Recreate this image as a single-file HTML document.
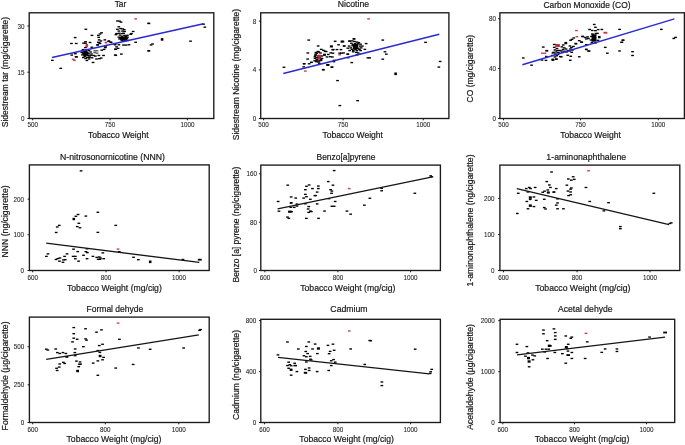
<!DOCTYPE html>
<html><head><meta charset="utf-8"><style>
html,body{margin:0;padding:0;background:#fff;overflow:hidden;}
svg{display:block;will-change:transform;}
text{font-family:"Liberation Sans", sans-serif;}
.lb{font-size:9.4px;fill:#161616;stroke:#161616;stroke-width:0.2px;}
.tk{font-size:7.2px;fill:#222;stroke:#222;stroke-width:0.08px;}
.fr{fill:none;stroke:#1a1a1a;stroke-width:1.35px;}
.tkl{stroke:#1a1a1a;stroke-width:1px;}
</style></head><body>
<svg width="685" height="445" viewBox="0 0 685 445">
<rect width="685" height="445" fill="#fff"/>
<g><rect x="29.2" y="12.8" width="184.60" height="105.70" class="fr"/><line x1="32.7" y1="118.5" x2="32.7" y2="120.3" class="tkl"/><text x="32.7" y="127.3" text-anchor="middle" class="tk" textLength="10.50" lengthAdjust="spacingAndGlyphs">500</text><line x1="110.1" y1="118.5" x2="110.1" y2="120.3" class="tkl"/><text x="110.1" y="127.3" text-anchor="middle" class="tk" textLength="10.50" lengthAdjust="spacingAndGlyphs">750</text><line x1="187.4" y1="118.5" x2="187.4" y2="120.3" class="tkl"/><text x="187.4" y="127.3" text-anchor="middle" class="tk" textLength="14.00" lengthAdjust="spacingAndGlyphs">1000</text><line x1="27.4" y1="118.5" x2="29.2" y2="118.5" class="tkl"/><text x="24.6" y="121.05" text-anchor="end" class="tk" textLength="3.50" lengthAdjust="spacingAndGlyphs">0</text><line x1="27.4" y1="72.2" x2="29.2" y2="72.2" class="tkl"/><text x="24.6" y="74.75" text-anchor="end" class="tk" textLength="7.00" lengthAdjust="spacingAndGlyphs">15</text><line x1="27.4" y1="26" x2="29.2" y2="26" class="tkl"/><text x="24.6" y="28.55" text-anchor="end" class="tk" textLength="7.00" lengthAdjust="spacingAndGlyphs">30</text><text x="120.5" y="7.4" text-anchor="middle" class="lb" textLength="11.6" lengthAdjust="spacingAndGlyphs">Tar</text><text x="118.3" y="137.8" text-anchor="middle" class="lb" textLength="60.6" lengthAdjust="spacingAndGlyphs">Tobacco Weight</text><text transform="translate(7.8 72.15) rotate(-90)" text-anchor="middle" class="lb" textLength="110.3" lengthAdjust="spacingAndGlyphs">Sidestream tar (mg/cigarette)</text><rect x="83.3" y="51.6" width="5" height="4" fill="#000"/><rect x="120.5" y="36.5" width="6" height="3.5" fill="#000"/><rect x="51.0" y="59.7" width="2.7" height="1.35" fill="#000"/><rect x="59.4" y="67.7" width="2.7" height="1.35" fill="#000"/><rect x="73.8" y="36.9" width="2.7" height="1.35" fill="#000"/><rect x="70.1" y="42.8" width="2.7" height="1.35" fill="#000"/><rect x="74.9" y="42.8" width="2.7" height="1.35" fill="#000"/><rect x="84.5" y="28.6" width="2.7" height="1.35" fill="#000"/><rect x="90.6" y="34.7" width="2.7" height="1.35" fill="#000"/><rect x="97.0" y="34.7" width="2.7" height="1.35" fill="#000"/><rect x="98.7" y="33.3" width="2.7" height="1.35" fill="#000"/><rect x="100.2" y="32.1" width="2.7" height="1.35" fill="#000"/><rect x="97.4" y="36.7" width="2.7" height="1.35" fill="#000"/><rect x="97.8" y="39.2" width="2.7" height="1.35" fill="#000"/><rect x="99.6" y="40.3" width="2.7" height="1.35" fill="#000"/><rect x="97.8" y="42.1" width="2.7" height="1.35" fill="#000"/><rect x="103.5" y="39.2" width="2.7" height="1.35" fill="#000"/><rect x="107.5" y="40.3" width="2.7" height="1.35" fill="#000"/><rect x="109.6" y="41.7" width="2.7" height="1.35" fill="#000"/><rect x="84.2" y="41.1" width="2.7" height="1.35" fill="#000"/><rect x="82.2" y="42.5" width="2.7" height="1.35" fill="#000"/><rect x="84.2" y="42.5" width="2.7" height="1.35" fill="#000"/><rect x="88.7" y="41.8" width="2.7" height="1.35" fill="#000"/><rect x="85.5" y="43.9" width="2.6" height="3.4" fill="#d03848"/><rect x="84.1" y="46.9" width="2.7" height="1.35" fill="#000"/><rect x="90.5" y="46.6" width="2.7" height="1.35" fill="#000"/><rect x="96.9" y="41.6" width="2.7" height="1.35" fill="#000"/><rect x="98.7" y="42.8" width="2.7" height="1.35" fill="#000"/><rect x="96.2" y="44.3" width="2.7" height="1.35" fill="#000"/><rect x="104.7" y="41.7" width="2.6" height="1.8" fill="#d03848"/><rect x="103.9" y="46.9" width="2.7" height="1.35" fill="#000"/><rect x="71.8" y="58.6" width="2.7" height="1.35" fill="#d03848"/><rect x="73.1" y="59.7" width="2.7" height="1.35" fill="#d03848"/><rect x="70.4" y="54.4" width="2.7" height="1.35" fill="#000"/><rect x="74.0" y="53.0" width="2.7" height="1.35" fill="#000"/><rect x="75.2" y="56.3" width="2.7" height="1.35" fill="#000"/><rect x="74.7" y="56.0" width="2.7" height="1.35" fill="#000"/><rect x="81.7" y="48.9" width="2.7" height="1.35" fill="#000"/><rect x="84.7" y="49.5" width="2.7" height="1.35" fill="#000"/><rect x="87.6" y="49.8" width="2.7" height="1.35" fill="#000"/><rect x="80.5" y="51.9" width="2.7" height="1.35" fill="#000"/><rect x="82.9" y="51.3" width="2.7" height="1.35" fill="#000"/><rect x="85.8" y="51.6" width="2.7" height="1.35" fill="#000"/><rect x="89.2" y="51.3" width="2.7" height="1.35" fill="#000"/><rect x="93.4" y="50.1" width="2.7" height="1.35" fill="#555"/><rect x="95.7" y="50.1" width="2.7" height="1.35" fill="#555"/><rect x="93.4" y="51.9" width="2.7" height="1.35" fill="#555"/><rect x="95.7" y="52.5" width="2.7" height="1.35" fill="#555"/><rect x="81.1" y="54.2" width="2.7" height="1.35" fill="#000"/><rect x="83.5" y="54.5" width="2.7" height="1.35" fill="#000"/><rect x="86.4" y="54.8" width="2.7" height="1.35" fill="#000"/><rect x="83.5" y="55.7" width="2.7" height="1.35" fill="#000"/><rect x="88.2" y="56.3" width="2.7" height="1.35" fill="#000"/><rect x="92.2" y="54.8" width="2.7" height="1.35" fill="#000"/><rect x="94.0" y="55.4" width="2.7" height="1.35" fill="#000"/><rect x="97.5" y="54.8" width="2.7" height="1.35" fill="#000"/><rect x="102.2" y="54.8" width="2.7" height="1.35" fill="#000"/><rect x="85.8" y="56.8" width="2.7" height="1.35" fill="#000"/><rect x="87.6" y="56.8" width="2.7" height="1.35" fill="#000"/><rect x="95.2" y="58.3" width="2.7" height="1.35" fill="#000"/><rect x="98.1" y="58.0" width="2.7" height="1.35" fill="#000"/><rect x="99.8" y="57.4" width="2.7" height="1.35" fill="#000"/><rect x="85.5" y="59.8" width="2.7" height="1.35" fill="#000"/><rect x="91.7" y="61.8" width="2.7" height="1.35" fill="#000"/><rect x="100.4" y="49.5" width="2.7" height="1.35" fill="#000"/><rect x="102.8" y="48.7" width="2.7" height="1.35" fill="#000"/><rect x="81.2" y="50.3" width="2.7" height="1.35" fill="#000"/><rect x="84.2" y="50.6" width="2.7" height="1.35" fill="#000"/><rect x="87.2" y="53.1" width="2.7" height="1.35" fill="#000"/><rect x="82.2" y="52.9" width="2.7" height="1.35" fill="#000"/><rect x="85.2" y="53.3" width="2.7" height="1.35" fill="#000"/><rect x="90.2" y="53.3" width="2.7" height="1.35" fill="#000"/><rect x="84.2" y="57.8" width="2.7" height="1.35" fill="#000"/><rect x="87.7" y="58.3" width="2.7" height="1.35" fill="#000"/><rect x="81.9" y="56.8" width="2.7" height="1.35" fill="#000"/><rect x="89.2" y="54.8" width="2.7" height="1.35" fill="#000"/><rect x="90.7" y="57.1" width="2.7" height="1.35" fill="#000"/><rect x="96.4" y="44.1" width="2.7" height="1.35" fill="#000"/><rect x="104.2" y="46.1" width="2.7" height="1.35" fill="#000"/><rect x="113.7" y="44.1" width="2.7" height="1.35" fill="#000"/><rect x="114.0" y="48.5" width="2.7" height="1.35" fill="#000"/><rect x="114.4" y="54.7" width="2.7" height="1.35" fill="#000"/><rect x="134.3" y="18.2" width="2.7" height="1.35" fill="#d03848"/><rect x="116.1" y="20.3" width="2.7" height="1.35" fill="#000"/><rect x="118.2" y="20.5" width="2.7" height="1.35" fill="#000"/><rect x="119.7" y="21.4" width="2.7" height="1.35" fill="#000"/><rect x="117.5" y="26.1" width="2.7" height="1.35" fill="#000"/><rect x="116.1" y="28.6" width="2.7" height="1.35" fill="#000"/><rect x="119.2" y="27.9" width="2.7" height="1.35" fill="#000"/><rect x="121.4" y="28.2" width="2.7" height="1.35" fill="#000"/><rect x="122.9" y="29.0" width="2.7" height="1.35" fill="#000"/><rect x="117.5" y="30.4" width="2.7" height="1.35" fill="#000"/><rect x="121.1" y="30.4" width="2.7" height="1.35" fill="#000"/><rect x="123.2" y="30.8" width="2.7" height="1.35" fill="#000"/><rect x="115.2" y="32.9" width="2.7" height="1.35" fill="#000"/><rect x="117.9" y="32.6" width="2.7" height="1.35" fill="#000"/><rect x="120.7" y="32.9" width="2.7" height="1.35" fill="#000"/><rect x="114.6" y="34.0" width="2.7" height="1.35" fill="#000"/><rect x="122.2" y="32.6" width="2.7" height="1.35" fill="#000"/><rect x="118.6" y="34.4" width="2.7" height="1.35" fill="#000"/><rect x="123.2" y="34.7" width="2.7" height="1.35" fill="#000"/><rect x="126.1" y="34.6" width="2.7" height="1.35" fill="#000"/><rect x="117.5" y="36.5" width="2.7" height="1.35" fill="#000"/><rect x="119.7" y="36.9" width="2.7" height="1.35" fill="#000"/><rect x="123.2" y="36.9" width="2.7" height="1.35" fill="#000"/><rect x="126.1" y="36.5" width="2.7" height="1.35" fill="#000"/><rect x="118.2" y="38.3" width="2.7" height="1.35" fill="#000"/><rect x="121.8" y="38.3" width="2.7" height="1.35" fill="#000"/><rect x="124.6" y="39.0" width="2.7" height="1.35" fill="#000"/><rect x="126.8" y="39.8" width="2.7" height="1.35" fill="#000"/><rect x="121.1" y="40.1" width="2.7" height="1.35" fill="#000"/><rect x="124.0" y="40.1" width="2.7" height="1.35" fill="#000"/><rect x="120.7" y="35.6" width="2.7" height="1.35" fill="#000"/><rect x="124.7" y="35.8" width="2.7" height="1.35" fill="#000"/><rect x="119.2" y="37.5" width="2.7" height="1.35" fill="#000"/><rect x="121.7" y="37.8" width="2.7" height="1.35" fill="#000"/><rect x="125.5" y="37.9" width="2.7" height="1.35" fill="#000"/><rect x="120.2" y="39.3" width="2.7" height="1.35" fill="#000"/><rect x="123.2" y="39.1" width="2.7" height="1.35" fill="#000"/><rect x="131.8" y="30.8" width="2.7" height="1.35" fill="#000"/><rect x="130.1" y="32.9" width="2.7" height="1.35" fill="#000"/><rect x="129.3" y="33.6" width="2.7" height="1.35" fill="#000"/><rect x="134.3" y="41.6" width="2.7" height="1.35" fill="#000"/><rect x="107.4" y="40.8" width="2.7" height="1.35" fill="#000"/><rect x="109.6" y="41.6" width="2.7" height="1.35" fill="#000"/><rect x="113.5" y="43.4" width="2.7" height="1.35" fill="#000"/><rect x="117.5" y="44.1" width="2.7" height="1.35" fill="#000"/><rect x="122.2" y="44.4" width="2.7" height="1.35" fill="#000"/><rect x="124.7" y="44.4" width="2.7" height="1.35" fill="#000"/><rect x="127.6" y="44.1" width="2.7" height="1.35" fill="#000"/><rect x="115.2" y="46.2" width="2.7" height="1.35" fill="#000"/><rect x="114.4" y="48.7" width="2.7" height="1.35" fill="#000"/><rect x="116.7" y="47.7" width="2.7" height="1.35" fill="#000"/><rect x="120.0" y="53.4" width="2.7" height="1.35" fill="#000"/><rect x="113.9" y="54.3" width="2.7" height="1.35" fill="#000"/><rect x="147.3" y="50.1" width="2.7" height="1.35" fill="#000"/><rect x="147.3" y="22.7" width="2.7" height="1.35" fill="#000"/><rect x="147.6" y="22.8" width="2.7" height="1.35" fill="#000"/><rect x="160.8" y="38.1" width="2.6" height="2.6" fill="#000"/><rect x="149.7" y="44.3" width="2.7" height="1.35" fill="#000"/><rect x="151.2" y="43.3" width="2.7" height="1.35" fill="#000"/><rect x="147.6" y="50.2" width="2.7" height="1.35" fill="#000"/><rect x="189.2" y="40.5" width="2.7" height="1.35" fill="#000"/><rect x="202.2" y="23.5" width="2.7" height="1.35" fill="#000"/><rect x="203.5" y="26.5" width="2.7" height="1.35" fill="#000"/><line x1="52" y1="57.6" x2="203.5" y2="23.8" stroke="#2a2ad2" stroke-width="1.5"/></g>
<g><rect x="260.7" y="12.8" width="188.20" height="105.70" class="fr"/><line x1="263.6" y1="118.5" x2="263.6" y2="120.3" class="tkl"/><text x="263.6" y="127.3" text-anchor="middle" class="tk" textLength="10.50" lengthAdjust="spacingAndGlyphs">500</text><line x1="343.1" y1="118.5" x2="343.1" y2="120.3" class="tkl"/><text x="343.1" y="127.3" text-anchor="middle" class="tk" textLength="10.50" lengthAdjust="spacingAndGlyphs">750</text><line x1="423.3" y1="118.5" x2="423.3" y2="120.3" class="tkl"/><text x="423.3" y="127.3" text-anchor="middle" class="tk" textLength="14.00" lengthAdjust="spacingAndGlyphs">1000</text><line x1="258.9" y1="118.5" x2="260.7" y2="118.5" class="tkl"/><text x="256.3" y="121.05" text-anchor="end" class="tk" textLength="3.50" lengthAdjust="spacingAndGlyphs">0</text><line x1="258.9" y1="69.9" x2="260.7" y2="69.9" class="tkl"/><text x="256.3" y="72.45" text-anchor="end" class="tk" textLength="3.50" lengthAdjust="spacingAndGlyphs">4</text><line x1="258.9" y1="21.1" x2="260.7" y2="21.1" class="tkl"/><text x="256.3" y="23.650000000000002" text-anchor="end" class="tk" textLength="3.50" lengthAdjust="spacingAndGlyphs">8</text><text x="353.4" y="7.4" text-anchor="middle" class="lb" textLength="31.4" lengthAdjust="spacingAndGlyphs">Nicotine</text><text x="352.7" y="137.8" text-anchor="middle" class="lb" textLength="60.6" lengthAdjust="spacingAndGlyphs">Tobacco Weight</text><text transform="translate(239.3 74.65) rotate(-90)" text-anchor="middle" class="lb" textLength="131.3" lengthAdjust="spacingAndGlyphs">Sidestream Nicotine (mg/cigarette)</text><rect x="353.0" y="43.9" width="5" height="5.5" fill="#000"/><rect x="314.6" y="51.8" width="2.7" height="1.35" fill="#000"/><rect x="316.6" y="50.8" width="2.7" height="1.35" fill="#000"/><rect x="319.1" y="52.3" width="2.7" height="1.35" fill="#000"/><rect x="314.1" y="54.8" width="2.7" height="1.35" fill="#000"/><rect x="320.6" y="55.3" width="2.7" height="1.35" fill="#000"/><rect x="315.6" y="59.1" width="2.7" height="1.35" fill="#000"/><rect x="319.6" y="59.1" width="2.7" height="1.35" fill="#000"/><rect x="317.6" y="60.3" width="2.7" height="1.35" fill="#000"/><rect x="282.6" y="66.6" width="2.7" height="1.35" fill="#000"/><rect x="307.4" y="39.4" width="2.7" height="1.35" fill="#000"/><rect x="316.8" y="45.3" width="2.7" height="1.35" fill="#000"/><rect x="306.5" y="52.3" width="2.7" height="1.35" fill="#000"/><rect x="306.3" y="58.4" width="2.7" height="1.35" fill="#000"/><rect x="302.8" y="63.1" width="2.7" height="1.35" fill="#000"/><rect x="307.8" y="63.1" width="2.7" height="1.35" fill="#000"/><rect x="310.1" y="61.7" width="2.7" height="1.35" fill="#000"/><rect x="304.0" y="70.4" width="2.7" height="1.35" fill="#d03848"/><rect x="302.4" y="66.2" width="2.7" height="1.35" fill="#000"/><rect x="321.8" y="68.9" width="2.7" height="1.35" fill="#000"/><rect x="326.3" y="64.4" width="2.7" height="1.35" fill="#000"/><rect x="319.9" y="48.7" width="2.7" height="1.35" fill="#000"/><rect x="322.1" y="49.7" width="2.7" height="1.35" fill="#000"/><rect x="323.8" y="50.6" width="2.7" height="1.35" fill="#000"/><rect x="324.8" y="50.9" width="2.7" height="1.35" fill="#000"/><rect x="331.3" y="49.1" width="2.7" height="1.35" fill="#000"/><rect x="329.4" y="52.2" width="2.7" height="1.35" fill="#000"/><rect x="331.6" y="52.5" width="2.7" height="1.35" fill="#000"/><rect x="317.4" y="51.3" width="2.7" height="1.35" fill="#000"/><rect x="315.5" y="52.5" width="2.7" height="1.35" fill="#000"/><rect x="314.3" y="53.5" width="2.7" height="1.35" fill="#000"/><rect x="317.1" y="54.7" width="4.2" height="4.6" fill="#b0283a"/><rect x="313.6" y="56.0" width="2.7" height="1.35" fill="#000"/><rect x="313.6" y="57.6" width="2.7" height="1.35" fill="#000"/><rect x="323.1" y="53.7" width="2.8" height="2.2" fill="#000"/><rect x="325.6" y="56.3" width="2.7" height="1.35" fill="#000"/><rect x="326.9" y="53.8" width="2.7" height="1.35" fill="#000"/><rect x="328.8" y="56.0" width="2.7" height="1.35" fill="#000"/><rect x="331.0" y="56.3" width="2.7" height="1.35" fill="#000"/><rect x="313.3" y="60.1" width="2.7" height="1.35" fill="#000"/><rect x="314.9" y="61.0" width="2.7" height="1.35" fill="#000"/><rect x="317.1" y="61.3" width="2.7" height="1.35" fill="#000"/><rect x="318.0" y="62.6" width="2.7" height="1.35" fill="#000"/><rect x="309.9" y="61.7" width="2.7" height="1.35" fill="#000"/><rect x="326.2" y="64.2" width="2.7" height="1.35" fill="#000"/><rect x="332.5" y="61.0" width="2.7" height="1.35" fill="#000"/><rect x="330.6" y="66.4" width="2.7" height="1.35" fill="#000"/><rect x="315.6" y="59.3" width="2.7" height="1.35" fill="#000"/><rect x="319.6" y="59.8" width="2.7" height="1.35" fill="#000"/><rect x="320.6" y="57.8" width="2.7" height="1.35" fill="#000"/><rect x="315.1" y="57.1" width="2.7" height="1.35" fill="#000"/><rect x="333.8" y="40.6" width="2.7" height="1.35" fill="#000"/><rect x="340.6" y="40.5" width="3" height="2.2" fill="#000"/><rect x="337.2" y="44.1" width="2.7" height="1.35" fill="#000"/><rect x="342.8" y="45.3" width="2.7" height="1.35" fill="#000"/><rect x="329.9" y="45.3" width="3" height="2.2" fill="#000"/><rect x="352.8" y="38.3" width="2.7" height="1.35" fill="#000"/><rect x="332.0" y="48.9" width="2.7" height="1.35" fill="#000"/><rect x="335.6" y="48.9" width="2.7" height="1.35" fill="#000"/><rect x="339.6" y="48.9" width="2.7" height="1.35" fill="#000"/><rect x="338.3" y="52.5" width="2.7" height="1.35" fill="#000"/><rect x="340.1" y="52.5" width="2.7" height="1.35" fill="#000"/><rect x="338.3" y="54.1" width="2.7" height="1.35" fill="#d03848"/><rect x="332.9" y="59.7" width="2.7" height="1.35" fill="#000"/><rect x="326.6" y="64.2" width="2.7" height="1.35" fill="#000"/><rect x="346.4" y="53.4" width="2.7" height="1.35" fill="#000"/><rect x="346.8" y="57.0" width="2.7" height="1.35" fill="#000"/><rect x="350.4" y="61.9" width="2.7" height="1.35" fill="#000"/><rect x="352.5" y="38.1" width="2.7" height="1.35" fill="#000"/><rect x="348.3" y="40.5" width="2.7" height="1.35" fill="#000"/><rect x="350.8" y="40.2" width="2.7" height="1.35" fill="#000"/><rect x="353.1" y="40.8" width="2.7" height="1.35" fill="#000"/><rect x="355.6" y="41.4" width="2.7" height="1.35" fill="#000"/><rect x="357.4" y="42.0" width="2.7" height="1.35" fill="#000"/><rect x="350.1" y="42.6" width="2.7" height="1.35" fill="#000"/><rect x="353.8" y="42.9" width="2.7" height="1.35" fill="#000"/><rect x="356.8" y="43.2" width="2.7" height="1.35" fill="#000"/><rect x="359.2" y="43.5" width="2.7" height="1.35" fill="#000"/><rect x="364.8" y="42.9" width="2.7" height="1.35" fill="#000"/><rect x="347.8" y="45.4" width="2.7" height="1.35" fill="#000"/><rect x="351.3" y="45.1" width="2.7" height="1.35" fill="#000"/><rect x="355.0" y="45.4" width="2.7" height="1.35" fill="#000"/><rect x="358.6" y="45.4" width="2.7" height="1.35" fill="#000"/><rect x="361.0" y="45.4" width="2.7" height="1.35" fill="#000"/><rect x="346.5" y="47.5" width="2.7" height="1.35" fill="#000"/><rect x="349.5" y="47.2" width="2.7" height="1.35" fill="#000"/><rect x="353.1" y="47.5" width="2.7" height="1.35" fill="#000"/><rect x="356.8" y="47.5" width="2.7" height="1.35" fill="#000"/><rect x="359.8" y="47.2" width="2.7" height="1.35" fill="#000"/><rect x="363.5" y="48.7" width="2.7" height="1.35" fill="#000"/><rect x="348.3" y="49.9" width="2.7" height="1.35" fill="#000"/><rect x="351.9" y="49.9" width="2.7" height="1.35" fill="#000"/><rect x="355.6" y="49.9" width="2.7" height="1.35" fill="#000"/><rect x="359.2" y="49.9" width="2.7" height="1.35" fill="#000"/><rect x="351.9" y="51.1" width="2.7" height="1.35" fill="#000"/><rect x="355.0" y="51.7" width="2.7" height="1.35" fill="#000"/><rect x="356.8" y="52.3" width="2.7" height="1.35" fill="#000"/><rect x="341.6" y="40.8" width="2.7" height="1.35" fill="#000"/><rect x="342.8" y="45.4" width="2.7" height="1.35" fill="#000"/><rect x="346.5" y="53.6" width="2.7" height="1.35" fill="#000"/><rect x="355.6" y="54.2" width="2.7" height="1.35" fill="#000"/><rect x="358.0" y="53.6" width="2.7" height="1.35" fill="#000"/><rect x="366.5" y="57.2" width="2.7" height="1.35" fill="#000"/><rect x="368.3" y="57.2" width="2.7" height="1.35" fill="#000"/><rect x="342.2" y="52.3" width="2.7" height="1.35" fill="#000"/><rect x="351.6" y="44.1" width="2.7" height="1.35" fill="#000"/><rect x="355.6" y="44.3" width="2.7" height="1.35" fill="#000"/><rect x="354.1" y="48.7" width="2.7" height="1.35" fill="#000"/><rect x="358.1" y="48.6" width="2.7" height="1.35" fill="#000"/><rect x="350.6" y="48.6" width="2.7" height="1.35" fill="#000"/><rect x="381.4" y="39.4" width="2.7" height="1.35" fill="#000"/><rect x="383.6" y="51.1" width="2.7" height="1.35" fill="#000"/><rect x="385.0" y="53.5" width="2.7" height="1.35" fill="#000"/><rect x="381.4" y="58.5" width="2.7" height="1.35" fill="#000"/><rect x="394.3" y="72.5" width="2.6" height="2.6" fill="#000"/><rect x="424.2" y="41.7" width="2.7" height="1.35" fill="#000"/><rect x="438.8" y="60.8" width="2.7" height="1.35" fill="#000"/><rect x="437.5" y="66.4" width="2.7" height="1.35" fill="#000"/><rect x="322.1" y="69.2" width="2.7" height="1.35" fill="#000"/><rect x="326.8" y="64.3" width="2.7" height="1.35" fill="#000"/><rect x="330.6" y="66.5" width="2.7" height="1.35" fill="#000"/><rect x="336.2" y="79.9" width="2.7" height="1.35" fill="#000"/><rect x="356.3" y="100.0" width="2.7" height="1.35" fill="#000"/><rect x="338.5" y="104.9" width="2.7" height="1.35" fill="#000"/><rect x="302.8" y="63.0" width="2.7" height="1.35" fill="#000"/><rect x="367.2" y="18.2" width="2.7" height="1.35" fill="#d03848"/><rect x="348.1" y="40.4" width="2.7" height="1.35" fill="#000"/><line x1="283.3" y1="73.4" x2="439.3" y2="34.3" stroke="#2a2ad2" stroke-width="1.5"/></g>
<g><rect x="499.9" y="12.8" width="184.50" height="105.70" class="fr"/><line x1="503.5" y1="118.5" x2="503.5" y2="120.3" class="tkl"/><text x="503.5" y="127.3" text-anchor="middle" class="tk" textLength="10.50" lengthAdjust="spacingAndGlyphs">500</text><line x1="580.6" y1="118.5" x2="580.6" y2="120.3" class="tkl"/><text x="580.6" y="127.3" text-anchor="middle" class="tk" textLength="10.50" lengthAdjust="spacingAndGlyphs">750</text><line x1="658.3" y1="118.5" x2="658.3" y2="120.3" class="tkl"/><text x="658.3" y="127.3" text-anchor="middle" class="tk" textLength="14.00" lengthAdjust="spacingAndGlyphs">1000</text><line x1="498.09999999999997" y1="118.5" x2="499.9" y2="118.5" class="tkl"/><text x="496" y="121.05" text-anchor="end" class="tk" textLength="3.50" lengthAdjust="spacingAndGlyphs">0</text><line x1="498.09999999999997" y1="68.5" x2="499.9" y2="68.5" class="tkl"/><text x="496" y="71.05" text-anchor="end" class="tk" textLength="7.00" lengthAdjust="spacingAndGlyphs">40</text><line x1="498.09999999999997" y1="18.7" x2="499.9" y2="18.7" class="tkl"/><text x="496" y="21.25" text-anchor="end" class="tk" textLength="7.00" lengthAdjust="spacingAndGlyphs">80</text><text x="587" y="7.8" text-anchor="middle" class="lb" textLength="87" lengthAdjust="spacingAndGlyphs">Carbon Monoxide (CO)</text><text x="590.5" y="137.8" text-anchor="middle" class="lb" textLength="60.6" lengthAdjust="spacingAndGlyphs">Tobacco Weight</text><text transform="translate(472.8 68.65) rotate(-90)" text-anchor="middle" class="lb" textLength="67.7" lengthAdjust="spacingAndGlyphs">CO (mg/cigarette)</text><rect x="521.9" y="57.3" width="2.7" height="1.35" fill="#000"/><rect x="530.2" y="64.5" width="2.7" height="1.35" fill="#000"/><rect x="541.9" y="46.4" width="2.7" height="1.35" fill="#000"/><rect x="545.5" y="50.2" width="2.7" height="1.35" fill="#000"/><rect x="541.0" y="52.5" width="2.7" height="1.35" fill="#d03848"/><rect x="543.6" y="52.5" width="2.7" height="1.35" fill="#d03848"/><rect x="540.6" y="59.4" width="2.7" height="1.35" fill="#000"/><rect x="544.6" y="59.7" width="2.7" height="1.35" fill="#000"/><rect x="545.1" y="55.8" width="2.7" height="1.35" fill="#000"/><rect x="551.4" y="59.0" width="2.7" height="1.35" fill="#000"/><rect x="555.0" y="58.5" width="2.7" height="1.35" fill="#000"/><rect x="559.9" y="56.1" width="2.7" height="1.35" fill="#000"/><rect x="575.1" y="29.9" width="2.7" height="1.35" fill="#d03848"/><rect x="575.5" y="36.0" width="2.7" height="1.35" fill="#d03848"/><rect x="572.4" y="37.3" width="2.7" height="1.35" fill="#000"/><rect x="570.6" y="38.7" width="2.7" height="1.35" fill="#000"/><rect x="569.2" y="39.6" width="2.7" height="1.35" fill="#000"/><rect x="577.9" y="40.0" width="2.7" height="1.35" fill="#000"/><rect x="580.0" y="41.4" width="2.7" height="1.35" fill="#000"/><rect x="581.4" y="36.0" width="2.7" height="1.35" fill="#000"/><rect x="574.6" y="43.2" width="2.7" height="1.35" fill="#000"/><rect x="555.3" y="44.1" width="4.6" height="2.8" fill="#b0283a"/><rect x="552.9" y="43.8" width="2.7" height="1.35" fill="#000"/><rect x="552.9" y="46.7" width="2.7" height="1.35" fill="#000"/><rect x="564.4" y="41.9" width="2.8" height="2.3" fill="#000"/><rect x="561.9" y="44.3" width="2.7" height="1.35" fill="#000"/><rect x="560.5" y="46.2" width="2.7" height="1.35" fill="#000"/><rect x="562.9" y="47.2" width="2.7" height="1.35" fill="#000"/><rect x="568.6" y="45.3" width="2.7" height="1.35" fill="#000"/><rect x="570.1" y="46.8" width="2.7" height="1.35" fill="#000"/><rect x="569.1" y="48.3" width="2.7" height="1.35" fill="#000"/><rect x="571.1" y="49.3" width="2.7" height="1.35" fill="#000"/><rect x="568.1" y="50.3" width="2.7" height="1.35" fill="#000"/><rect x="570.4" y="51.6" width="2.7" height="1.35" fill="#000"/><rect x="572.1" y="45.8" width="2.7" height="1.35" fill="#000"/><rect x="574.4" y="42.8" width="2.7" height="1.35" fill="#000"/><rect x="564.6" y="48.3" width="2.7" height="1.35" fill="#000"/><rect x="566.6" y="49.8" width="2.7" height="1.35" fill="#000"/><rect x="561.6" y="48.8" width="2.7" height="1.35" fill="#000"/><rect x="565.1" y="51.3" width="2.7" height="1.35" fill="#000"/><rect x="558.1" y="49.8" width="2.7" height="1.35" fill="#000"/><rect x="555.6" y="47.8" width="2.7" height="1.35" fill="#000"/><rect x="551.1" y="54.8" width="2.7" height="1.35" fill="#000"/><rect x="553.6" y="56.3" width="2.7" height="1.35" fill="#000"/><rect x="553.6" y="49.3" width="2.7" height="1.35" fill="#000"/><rect x="556.1" y="49.8" width="2.7" height="1.35" fill="#000"/><rect x="554.6" y="51.3" width="2.7" height="1.35" fill="#000"/><rect x="557.1" y="51.8" width="2.7" height="1.35" fill="#000"/><rect x="554.1" y="53.3" width="2.7" height="1.35" fill="#000"/><rect x="556.6" y="53.8" width="2.7" height="1.35" fill="#000"/><rect x="555.4" y="55.1" width="2.7" height="1.35" fill="#000"/><rect x="551.6" y="52.3" width="2.7" height="1.35" fill="#000"/><rect x="552.1" y="51.7" width="2.7" height="1.35" fill="#000"/><rect x="560.1" y="50.3" width="2.7" height="1.35" fill="#000"/><rect x="563.1" y="50.6" width="2.7" height="1.35" fill="#000"/><rect x="561.1" y="51.8" width="2.7" height="1.35" fill="#000"/><rect x="559.0" y="55.9" width="2.7" height="1.35" fill="#000"/><rect x="566.4" y="54.6" width="2.7" height="1.35" fill="#000"/><rect x="569.4" y="55.6" width="2.7" height="1.35" fill="#000"/><rect x="551.6" y="58.6" width="2.8" height="2.3" fill="#000"/><rect x="555.0" y="58.4" width="2.7" height="1.35" fill="#000"/><rect x="568.9" y="59.6" width="2.7" height="1.35" fill="#000"/><rect x="577.9" y="56.1" width="2.7" height="1.35" fill="#000"/><rect x="585.0" y="48.6" width="2.7" height="1.35" fill="#000"/><rect x="587.8" y="50.4" width="2.7" height="1.35" fill="#000"/><rect x="545.4" y="49.9" width="2.7" height="1.35" fill="#000"/><rect x="592.9" y="23.8" width="2.7" height="1.35" fill="#000"/><rect x="594.1" y="26.6" width="2.7" height="1.35" fill="#000"/><rect x="588.2" y="28.8" width="2.7" height="1.35" fill="#000"/><rect x="590.9" y="29.8" width="2.7" height="1.35" fill="#000"/><rect x="594.1" y="30.0" width="2.7" height="1.35" fill="#000"/><rect x="596.8" y="28.9" width="2.7" height="1.35" fill="#000"/><rect x="600.5" y="28.8" width="2.7" height="1.35" fill="#000"/><rect x="603.4" y="31.8" width="4" height="1.9" fill="#d03848"/><rect x="618.2" y="28.7" width="2.7" height="1.35" fill="#000"/><rect x="591.5" y="34.2" width="5" height="7.5" fill="#000"/><rect x="591.1" y="33.3" width="2.7" height="1.35" fill="#000"/><rect x="594.6" y="32.8" width="2.7" height="1.35" fill="#000"/><rect x="596.1" y="32.7" width="2.7" height="1.35" fill="#000"/><rect x="590.1" y="35.8" width="2.7" height="1.35" fill="#000"/><rect x="589.6" y="39.3" width="2.7" height="1.35" fill="#000"/><rect x="590.6" y="41.8" width="2.7" height="1.35" fill="#000"/><rect x="594.1" y="42.3" width="2.7" height="1.35" fill="#000"/><rect x="596.6" y="39.7" width="2.7" height="1.35" fill="#000"/><rect x="598.0" y="35.9" width="2.6" height="2.4" fill="#000"/><rect x="581.2" y="35.6" width="2.7" height="1.35" fill="#000"/><rect x="583.9" y="36.8" width="2.7" height="1.35" fill="#000"/><rect x="585.0" y="38.3" width="2.7" height="1.35" fill="#000"/><rect x="586.2" y="36.2" width="2.7" height="1.35" fill="#000"/><rect x="580.4" y="41.5" width="2.7" height="1.35" fill="#000"/><rect x="587.1" y="37.8" width="2.7" height="1.35" fill="#000"/><rect x="584.9" y="44.0" width="2.7" height="1.35" fill="#000"/><rect x="584.9" y="48.9" width="2.7" height="1.35" fill="#000"/><rect x="587.1" y="50.3" width="2.7" height="1.35" fill="#000"/><rect x="603.9" y="46.7" width="2.7" height="1.35" fill="#000"/><rect x="606.0" y="52.5" width="2.7" height="1.35" fill="#000"/><rect x="618.2" y="50.3" width="2.7" height="1.35" fill="#000"/><rect x="621.9" y="39.5" width="2.7" height="1.35" fill="#000"/><rect x="620.4" y="41.7" width="2.7" height="1.35" fill="#000"/><rect x="660.0" y="28.7" width="2.7" height="1.35" fill="#000"/><rect x="672.4" y="37.8" width="2.7" height="1.35" fill="#000"/><rect x="674.2" y="36.7" width="2.7" height="1.35" fill="#000"/><rect x="621.4" y="39.5" width="2.7" height="1.35" fill="#000"/><rect x="620.5" y="41.6" width="2.7" height="1.35" fill="#000"/><rect x="631.2" y="51.0" width="2.7" height="1.35" fill="#000"/><rect x="631.2" y="54.8" width="2.7" height="1.35" fill="#000"/><line x1="522.4" y1="64.8" x2="674.4" y2="18.9" stroke="#2a2ad2" stroke-width="1.5"/></g>
<g><rect x="29.4" y="164.9" width="179.80" height="105.60" class="fr"/><line x1="32.7" y1="270.5" x2="32.7" y2="272.3" class="tkl"/><text x="32.7" y="279.6" text-anchor="middle" class="tk" textLength="10.50" lengthAdjust="spacingAndGlyphs">600</text><line x1="106.1" y1="270.5" x2="106.1" y2="272.3" class="tkl"/><text x="106.1" y="279.6" text-anchor="middle" class="tk" textLength="10.50" lengthAdjust="spacingAndGlyphs">800</text><line x1="179.1" y1="270.5" x2="179.1" y2="272.3" class="tkl"/><text x="179.1" y="279.6" text-anchor="middle" class="tk" textLength="14.00" lengthAdjust="spacingAndGlyphs">1000</text><line x1="27.599999999999998" y1="270.5" x2="29.4" y2="270.5" class="tkl"/><text x="24.1" y="273.05" text-anchor="end" class="tk" textLength="3.50" lengthAdjust="spacingAndGlyphs">0</text><line x1="27.599999999999998" y1="234.7" x2="29.4" y2="234.7" class="tkl"/><text x="24.1" y="237.25" text-anchor="end" class="tk" textLength="10.50" lengthAdjust="spacingAndGlyphs">100</text><line x1="27.599999999999998" y1="199.1" x2="29.4" y2="199.1" class="tkl"/><text x="24.1" y="201.65" text-anchor="end" class="tk" textLength="10.50" lengthAdjust="spacingAndGlyphs">200</text><text x="112.5" y="160" text-anchor="middle" class="lb" textLength="104.8" lengthAdjust="spacingAndGlyphs">N-nitrosonornicotine (NNN)</text><text x="114.4" y="290.5" text-anchor="middle" class="lb" textLength="94.8" lengthAdjust="spacingAndGlyphs">Tobacco Weight (mg/cig)</text><text transform="translate(8.1 221.4) rotate(-90)" text-anchor="middle" class="lb" textLength="72" lengthAdjust="spacingAndGlyphs">NNN (ng/cigarette)</text><rect x="79.7" y="170.2" width="2.7" height="1.35" fill="#000"/><rect x="96.5" y="211.6" width="2.7" height="1.35" fill="#000"/><rect x="84.5" y="215.4" width="2.7" height="1.35" fill="#000"/><rect x="74.5" y="215.6" width="2.7" height="1.35" fill="#000"/><rect x="76.7" y="213.8" width="2.7" height="1.35" fill="#000"/><rect x="72.5" y="217.8" width="2.6" height="2.4" fill="#000"/><rect x="77.5" y="222.6" width="2.7" height="1.35" fill="#000"/><rect x="75.9" y="225.9" width="2.7" height="1.35" fill="#000"/><rect x="78.6" y="227.1" width="2.7" height="1.35" fill="#000"/><rect x="55.9" y="226.3" width="2.7" height="1.35" fill="#000"/><rect x="57.9" y="224.7" width="2.7" height="1.35" fill="#000"/><rect x="54.8" y="231.8" width="2.7" height="1.35" fill="#000"/><rect x="114.4" y="224.7" width="2.7" height="1.35" fill="#000"/><rect x="96.5" y="231.7" width="2.7" height="1.35" fill="#000"/><rect x="46.6" y="253.2" width="2.7" height="1.35" fill="#000"/><rect x="45.0" y="255.7" width="2.7" height="1.35" fill="#000"/><rect x="65.7" y="253.2" width="2.7" height="1.35" fill="#000"/><rect x="63.2" y="255.7" width="2.7" height="1.35" fill="#000"/><rect x="54.6" y="258.8" width="2.7" height="1.35" fill="#000"/><rect x="56.5" y="257.9" width="2.7" height="1.35" fill="#000"/><rect x="58.6" y="257.3" width="2.7" height="1.35" fill="#000"/><rect x="58.1" y="260.5" width="2.7" height="1.35" fill="#000"/><rect x="62.1" y="259.2" width="2.7" height="1.35" fill="#000"/><rect x="63.9" y="259.0" width="2.7" height="1.35" fill="#000"/><rect x="61.6" y="261.6" width="2.7" height="1.35" fill="#000"/><rect x="72.2" y="248.5" width="2.7" height="1.35" fill="#000"/><rect x="76.4" y="250.9" width="2.7" height="1.35" fill="#000"/><rect x="71.8" y="255.7" width="2.7" height="1.35" fill="#000"/><rect x="74.0" y="255.7" width="2.7" height="1.35" fill="#000"/><rect x="74.0" y="258.1" width="2.7" height="1.35" fill="#000"/><rect x="77.2" y="260.5" width="2.7" height="1.35" fill="#000"/><rect x="85.7" y="248.1" width="2.7" height="1.35" fill="#000"/><rect x="84.5" y="251.0" width="2.7" height="1.35" fill="#000"/><rect x="86.0" y="251.9" width="2.7" height="1.35" fill="#000"/><rect x="82.2" y="254.6" width="2.7" height="1.35" fill="#000"/><rect x="85.7" y="258.0" width="2.7" height="1.35" fill="#000"/><rect x="91.6" y="255.7" width="2.7" height="1.35" fill="#000"/><rect x="95.4" y="256.7" width="2.7" height="1.35" fill="#000"/><rect x="98.0" y="256.3" width="2.7" height="1.35" fill="#000"/><rect x="99.2" y="257.4" width="2.7" height="1.35" fill="#000"/><rect x="96.8" y="258.6" width="2.7" height="1.35" fill="#000"/><rect x="98.6" y="258.6" width="2.7" height="1.35" fill="#000"/><rect x="102.4" y="258.0" width="2.7" height="1.35" fill="#000"/><rect x="101.5" y="252.2" width="2.7" height="1.35" fill="#000"/><rect x="116.7" y="248.4" width="2.7" height="1.35" fill="#d03848"/><rect x="117.9" y="251.0" width="2.7" height="1.35" fill="#000"/><rect x="132.2" y="256.6" width="2.7" height="1.35" fill="#000"/><rect x="137.0" y="259.0" width="2.7" height="1.35" fill="#000"/><rect x="148.9" y="260.5" width="2.6" height="2.6" fill="#000"/><rect x="197.9" y="258.8" width="3.8" height="1.8" fill="#000"/><rect x="181.6" y="258.8" width="2.7" height="1.35" fill="#000"/><line x1="46.2" y1="243.2" x2="199.3" y2="262.4" stroke="#151515" stroke-width="1.35"/></g>
<g><rect x="260.8" y="165.1" width="179.60" height="105.40" class="fr"/><line x1="264.9" y1="270.5" x2="264.9" y2="272.3" class="tkl"/><text x="264.9" y="279.6" text-anchor="middle" class="tk" textLength="10.50" lengthAdjust="spacingAndGlyphs">600</text><line x1="337.9" y1="270.5" x2="337.9" y2="272.3" class="tkl"/><text x="337.9" y="279.6" text-anchor="middle" class="tk" textLength="10.50" lengthAdjust="spacingAndGlyphs">800</text><line x1="410.6" y1="270.5" x2="410.6" y2="272.3" class="tkl"/><text x="410.6" y="279.6" text-anchor="middle" class="tk" textLength="14.00" lengthAdjust="spacingAndGlyphs">1000</text><line x1="259.0" y1="270.5" x2="260.8" y2="270.5" class="tkl"/><text x="257" y="273.05" text-anchor="end" class="tk" textLength="3.50" lengthAdjust="spacingAndGlyphs">0</text><line x1="259.0" y1="222.2" x2="260.8" y2="222.2" class="tkl"/><text x="257" y="224.75" text-anchor="end" class="tk" textLength="7.00" lengthAdjust="spacingAndGlyphs">80</text><line x1="259.0" y1="173.8" x2="260.8" y2="173.8" class="tkl"/><text x="257" y="176.35000000000002" text-anchor="end" class="tk" textLength="10.50" lengthAdjust="spacingAndGlyphs">160</text><text x="346" y="160" text-anchor="middle" class="lb" textLength="58.9" lengthAdjust="spacingAndGlyphs">Benzo[a]pyrene</text><text x="347.8" y="290.5" text-anchor="middle" class="lb" textLength="95.2" lengthAdjust="spacingAndGlyphs">Tobacco Weight (mg/cig)</text><text transform="translate(238.9 224.55) rotate(-90)" text-anchor="middle" class="lb" textLength="115.9" lengthAdjust="spacingAndGlyphs">Benzo [a] pyrene (ng/cigarette)</text><rect x="286.4" y="184.5" width="2.7" height="1.35" fill="#000"/><rect x="276.8" y="200.8" width="2.7" height="1.35" fill="#000"/><rect x="289.8" y="196.3" width="2.7" height="1.35" fill="#000"/><rect x="294.4" y="197.4" width="2.7" height="1.35" fill="#000"/><rect x="289.8" y="202.3" width="2.7" height="1.35" fill="#000"/><rect x="305.1" y="185.6" width="2.7" height="1.35" fill="#000"/><rect x="307.8" y="184.3" width="2.7" height="1.35" fill="#000"/><rect x="304.0" y="189.0" width="2.7" height="1.35" fill="#000"/><rect x="311.1" y="187.9" width="2.7" height="1.35" fill="#000"/><rect x="317.0" y="185.4" width="2.7" height="1.35" fill="#000"/><rect x="317.0" y="187.9" width="2.7" height="1.35" fill="#000"/><rect x="315.8" y="191.4" width="2.7" height="1.35" fill="#000"/><rect x="304.0" y="193.7" width="2.7" height="1.35" fill="#000"/><rect x="305.1" y="196.0" width="2.7" height="1.35" fill="#000"/><rect x="302.3" y="197.4" width="2.7" height="1.35" fill="#000"/><rect x="313.5" y="194.9" width="2.7" height="1.35" fill="#000"/><rect x="309.0" y="198.6" width="2.7" height="1.35" fill="#000"/><rect x="315.8" y="203.2" width="2.7" height="1.35" fill="#000"/><rect x="304.0" y="203.1" width="2.7" height="1.35" fill="#000"/><rect x="295.6" y="203.4" width="2.7" height="1.35" fill="#000"/><rect x="289.4" y="206.6" width="2.7" height="1.35" fill="#000"/><rect x="292.8" y="206.7" width="2.7" height="1.35" fill="#000"/><rect x="295.6" y="205.4" width="2.7" height="1.35" fill="#000"/><rect x="307.4" y="205.9" width="2.7" height="1.35" fill="#000"/><rect x="277.6" y="210.5" width="2.7" height="1.35" fill="#000"/><rect x="288.1" y="210.6" width="3.5" height="2.2" fill="#000"/><rect x="290.2" y="211.0" width="2.7" height="1.35" fill="#000"/><rect x="306.8" y="208.3" width="2.7" height="1.35" fill="#000"/><rect x="309.0" y="210.4" width="2.7" height="1.35" fill="#000"/><rect x="310.0" y="210.9" width="2.7" height="1.35" fill="#000"/><rect x="307.3" y="211.7" width="2.7" height="1.35" fill="#000"/><rect x="286.1" y="216.4" width="2.7" height="1.35" fill="#000"/><rect x="287.5" y="217.7" width="2.7" height="1.35" fill="#000"/><rect x="305.0" y="217.7" width="2.7" height="1.35" fill="#000"/><rect x="317.2" y="217.7" width="2.7" height="1.35" fill="#000"/><rect x="289.8" y="202.2" width="2.7" height="1.35" fill="#000"/><rect x="332.8" y="169.9" width="2.7" height="1.35" fill="#000"/><rect x="326.9" y="180.9" width="2.7" height="1.35" fill="#000"/><rect x="331.6" y="184.5" width="2.7" height="1.35" fill="#000"/><rect x="329.3" y="189.0" width="2.7" height="1.35" fill="#000"/><rect x="330.5" y="190.4" width="2.7" height="1.35" fill="#000"/><rect x="330.2" y="192.6" width="2.7" height="1.35" fill="#000"/><rect x="314.2" y="194.9" width="2.7" height="1.35" fill="#000"/><rect x="347.9" y="187.9" width="2.7" height="1.35" fill="#d03848"/><rect x="327.6" y="198.0" width="2.7" height="1.35" fill="#000"/><rect x="333.8" y="200.8" width="2.7" height="1.35" fill="#000"/><rect x="330.5" y="205.6" width="2.7" height="1.35" fill="#000"/><rect x="332.8" y="205.6" width="2.7" height="1.35" fill="#000"/><rect x="323.2" y="210.4" width="2.7" height="1.35" fill="#000"/><rect x="345.6" y="210.4" width="2.7" height="1.35" fill="#000"/><rect x="349.3" y="213.5" width="2.7" height="1.35" fill="#000"/><rect x="363.0" y="204.5" width="2.7" height="1.35" fill="#000"/><rect x="380.3" y="187.6" width="2.7" height="1.35" fill="#000"/><rect x="380.3" y="190.1" width="2.7" height="1.35" fill="#000"/><rect x="368.5" y="197.6" width="2.7" height="1.35" fill="#000"/><rect x="413.5" y="192.6" width="2.7" height="1.35" fill="#000"/><rect x="429.3" y="175.2" width="2.7" height="1.35" fill="#000"/><rect x="430.5" y="176.1" width="2.7" height="1.35" fill="#000"/><line x1="277.6" y1="208.8" x2="432.5" y2="176.8" stroke="#151515" stroke-width="1.35"/></g>
<g><rect x="499.9" y="165.1" width="179.90" height="105.40" class="fr"/><line x1="503.5" y1="270.5" x2="503.5" y2="272.3" class="tkl"/><text x="503.5" y="279.6" text-anchor="middle" class="tk" textLength="10.50" lengthAdjust="spacingAndGlyphs">600</text><line x1="577" y1="270.5" x2="577" y2="272.3" class="tkl"/><text x="577" y="279.6" text-anchor="middle" class="tk" textLength="10.50" lengthAdjust="spacingAndGlyphs">800</text><line x1="650" y1="270.5" x2="650" y2="272.3" class="tkl"/><text x="650" y="279.6" text-anchor="middle" class="tk" textLength="14.00" lengthAdjust="spacingAndGlyphs">1000</text><line x1="498.09999999999997" y1="270.5" x2="499.9" y2="270.5" class="tkl"/><text x="494.4" y="273.05" text-anchor="end" class="tk" textLength="3.50" lengthAdjust="spacingAndGlyphs">0</text><line x1="498.09999999999997" y1="234.5" x2="499.9" y2="234.5" class="tkl"/><text x="494.4" y="237.05" text-anchor="end" class="tk" textLength="10.50" lengthAdjust="spacingAndGlyphs">100</text><line x1="498.09999999999997" y1="198.4" x2="499.9" y2="198.4" class="tkl"/><text x="494.4" y="200.95000000000002" text-anchor="end" class="tk" textLength="10.50" lengthAdjust="spacingAndGlyphs">200</text><text x="586.3" y="160" text-anchor="middle" class="lb" textLength="79.9" lengthAdjust="spacingAndGlyphs">1-aminonaphthalene</text><text x="582.8" y="290.5" text-anchor="middle" class="lb" textLength="95.2" lengthAdjust="spacingAndGlyphs">Tobacco Weight (mg/cig)</text><text transform="translate(473.1 220.45) rotate(-90)" text-anchor="middle" class="lb" textLength="131.9" lengthAdjust="spacingAndGlyphs">1-aminonaphthalene (ng/cigarette)</text><rect x="550.2" y="171.3" width="2.7" height="1.35" fill="#000"/><rect x="545.4" y="180.9" width="2.7" height="1.35" fill="#000"/><rect x="548.0" y="184.3" width="2.7" height="1.35" fill="#000"/><rect x="549.1" y="186.8" width="2.7" height="1.35" fill="#000"/><rect x="546.4" y="189.3" width="2.7" height="1.35" fill="#000"/><rect x="546.8" y="191.4" width="3" height="2.2" fill="#000"/><rect x="541.4" y="191.6" width="2.7" height="1.35" fill="#000"/><rect x="543.2" y="190.5" width="2.7" height="1.35" fill="#000"/><rect x="552.5" y="191.5" width="2.7" height="1.35" fill="#000"/><rect x="533.8" y="186.8" width="2.7" height="1.35" fill="#000"/><rect x="524.9" y="187.9" width="2.7" height="1.35" fill="#000"/><rect x="527.9" y="186.8" width="2.7" height="1.35" fill="#000"/><rect x="529.2" y="187.9" width="2.7" height="1.35" fill="#000"/><rect x="526.6" y="191.3" width="2.7" height="1.35" fill="#000"/><rect x="516.9" y="192.6" width="2.7" height="1.35" fill="#000"/><rect x="528.8" y="196.3" width="3" height="2.5" fill="#000"/><rect x="528.9" y="198.8" width="2.7" height="1.35" fill="#000"/><rect x="532.6" y="196.3" width="2.7" height="1.35" fill="#000"/><rect x="534.9" y="199.7" width="2.7" height="1.35" fill="#000"/><rect x="525.5" y="200.8" width="2.7" height="1.35" fill="#000"/><rect x="542.9" y="198.6" width="2.7" height="1.35" fill="#000"/><rect x="528.8" y="204.4" width="3" height="2.5" fill="#000"/><rect x="532.6" y="205.9" width="2.7" height="1.35" fill="#000"/><rect x="526.6" y="208.1" width="2.7" height="1.35" fill="#000"/><rect x="542.9" y="206.9" width="2.7" height="1.35" fill="#000"/><rect x="544.2" y="208.3" width="2.7" height="1.35" fill="#000"/><rect x="516.0" y="212.8" width="2.7" height="1.35" fill="#000"/><rect x="587.2" y="170.1" width="2.7" height="1.35" fill="#d03848"/><rect x="571.8" y="176.1" width="2.7" height="1.35" fill="#000"/><rect x="567.0" y="178.3" width="2.7" height="1.35" fill="#000"/><rect x="570.0" y="179.5" width="2.7" height="1.35" fill="#000"/><rect x="572.9" y="178.7" width="2.7" height="1.35" fill="#000"/><rect x="565.5" y="184.5" width="2.7" height="1.35" fill="#000"/><rect x="584.6" y="186.8" width="2.7" height="1.35" fill="#000"/><rect x="554.9" y="187.9" width="2.7" height="1.35" fill="#000"/><rect x="552.6" y="191.3" width="2.7" height="1.35" fill="#000"/><rect x="570.0" y="187.3" width="2.7" height="1.35" fill="#000"/><rect x="569.2" y="188.5" width="2.7" height="1.35" fill="#000"/><rect x="566.6" y="190.4" width="2.7" height="1.35" fill="#000"/><rect x="569.2" y="191.3" width="2.7" height="1.35" fill="#000"/><rect x="567.2" y="194.9" width="2.7" height="1.35" fill="#000"/><rect x="569.4" y="194.1" width="2.7" height="1.35" fill="#000"/><rect x="556.2" y="198.2" width="2.7" height="1.35" fill="#000"/><rect x="556.2" y="202.3" width="2.7" height="1.35" fill="#000"/><rect x="554.9" y="204.5" width="2.7" height="1.35" fill="#000"/><rect x="556.2" y="208.1" width="2.7" height="1.35" fill="#000"/><rect x="562.1" y="208.1" width="2.7" height="1.35" fill="#000"/><rect x="588.4" y="200.8" width="2.7" height="1.35" fill="#000"/><rect x="607.2" y="202.0" width="2.7" height="1.35" fill="#000"/><rect x="602.5" y="210.2" width="2.7" height="1.35" fill="#000"/><rect x="652.5" y="192.6" width="2.7" height="1.35" fill="#000"/><rect x="619.0" y="225.9" width="2.7" height="1.35" fill="#000"/><rect x="619.0" y="228.0" width="2.7" height="1.35" fill="#000"/><rect x="668.5" y="222.8" width="2.7" height="1.35" fill="#000"/><rect x="669.9" y="222.2" width="2.7" height="1.35" fill="#000"/><line x1="516.8" y1="188.6" x2="669.1" y2="224.7" stroke="#151515" stroke-width="1.35"/></g>
<g><rect x="29.4" y="317.1" width="179.80" height="105.40" class="fr"/><line x1="32.7" y1="422.5" x2="32.7" y2="424.3" class="tkl"/><text x="32.7" y="431.6" text-anchor="middle" class="tk" textLength="10.50" lengthAdjust="spacingAndGlyphs">600</text><line x1="105.3" y1="422.5" x2="105.3" y2="424.3" class="tkl"/><text x="105.3" y="431.6" text-anchor="middle" class="tk" textLength="10.50" lengthAdjust="spacingAndGlyphs">800</text><line x1="178.8" y1="422.5" x2="178.8" y2="424.3" class="tkl"/><text x="178.8" y="431.6" text-anchor="middle" class="tk" textLength="14.00" lengthAdjust="spacingAndGlyphs">1000</text><line x1="27.599999999999998" y1="422.5" x2="29.4" y2="422.5" class="tkl"/><text x="24.2" y="425.05" text-anchor="end" class="tk" textLength="3.50" lengthAdjust="spacingAndGlyphs">0</text><line x1="27.599999999999998" y1="384.8" x2="29.4" y2="384.8" class="tkl"/><text x="24.2" y="387.35" text-anchor="end" class="tk" textLength="10.50" lengthAdjust="spacingAndGlyphs">250</text><line x1="27.599999999999998" y1="346.7" x2="29.4" y2="346.7" class="tkl"/><text x="24.2" y="349.25" text-anchor="end" class="tk" textLength="10.50" lengthAdjust="spacingAndGlyphs">500</text><text x="114.9" y="311.8" text-anchor="middle" class="lb" textLength="56.7" lengthAdjust="spacingAndGlyphs">Formal dehyde</text><text x="114" y="442" text-anchor="middle" class="lb" textLength="94.9" lengthAdjust="spacingAndGlyphs">Tobacco Weight (mg/cig)</text><text transform="translate(7.9 375.95) rotate(-90)" text-anchor="middle" class="lb" textLength="108.9" lengthAdjust="spacingAndGlyphs">Formaldehyde (µg/cigarette)</text><rect x="72.4" y="326.9" width="2.7" height="1.35" fill="#000"/><rect x="84.2" y="328.1" width="2.7" height="1.35" fill="#000"/><rect x="72.4" y="333.0" width="2.7" height="1.35" fill="#000"/><rect x="72.4" y="337.5" width="2.7" height="1.35" fill="#000"/><rect x="75.8" y="338.6" width="2.7" height="1.35" fill="#000"/><rect x="71.2" y="341.2" width="2.7" height="1.35" fill="#000"/><rect x="84.2" y="338.2" width="2.7" height="1.35" fill="#000"/><rect x="85.2" y="339.5" width="2.7" height="1.35" fill="#000"/><rect x="82.0" y="346.0" width="2.7" height="1.35" fill="#000"/><rect x="44.9" y="348.5" width="2.7" height="1.35" fill="#000"/><rect x="46.5" y="349.4" width="2.7" height="1.35" fill="#000"/><rect x="54.4" y="348.3" width="2.7" height="1.35" fill="#000"/><rect x="56.0" y="351.9" width="2.7" height="1.35" fill="#000"/><rect x="58.4" y="352.8" width="2.7" height="1.35" fill="#000"/><rect x="61.6" y="351.9" width="2.7" height="1.35" fill="#000"/><rect x="64.5" y="352.8" width="2.7" height="1.35" fill="#000"/><rect x="73.8" y="348.3" width="2.7" height="1.35" fill="#000"/><rect x="73.5" y="351.9" width="2.7" height="1.35" fill="#000"/><rect x="65.1" y="356.2" width="2.7" height="1.35" fill="#000"/><rect x="73.8" y="355.0" width="2.7" height="1.35" fill="#000"/><rect x="58.4" y="363.3" width="2.7" height="1.35" fill="#000"/><rect x="62.0" y="361.7" width="2.7" height="1.35" fill="#000"/><rect x="63.4" y="362.8" width="2.7" height="1.35" fill="#000"/><rect x="55.2" y="367.6" width="2.7" height="1.35" fill="#000"/><rect x="57.9" y="366.4" width="2.7" height="1.35" fill="#000"/><rect x="55.8" y="369.8" width="2.7" height="1.35" fill="#000"/><rect x="75.1" y="360.4" width="2.7" height="1.35" fill="#000"/><rect x="78.7" y="361.3" width="2.7" height="1.35" fill="#000"/><rect x="78.2" y="363.4" width="3.6" height="1.6" fill="#000"/><rect x="77.4" y="366.0" width="2.7" height="1.35" fill="#000"/><rect x="76.2" y="369.8" width="2.8" height="2.4" fill="#000"/><rect x="65.7" y="356.3" width="2.7" height="1.35" fill="#000"/><rect x="116.7" y="322.4" width="2.7" height="1.35" fill="#d03848"/><rect x="118.1" y="338.6" width="2.7" height="1.35" fill="#000"/><rect x="100.1" y="329.2" width="2.7" height="1.35" fill="#000"/><rect x="95.2" y="331.5" width="2.7" height="1.35" fill="#000"/><rect x="97.9" y="344.9" width="2.7" height="1.35" fill="#000"/><rect x="101.2" y="343.6" width="2.7" height="1.35" fill="#000"/><rect x="96.5" y="349.9" width="2.7" height="1.35" fill="#000"/><rect x="98.5" y="351.7" width="2.7" height="1.35" fill="#000"/><rect x="98.7" y="354.8" width="2.8" height="2.4" fill="#000"/><rect x="102.2" y="356.7" width="2.7" height="1.35" fill="#000"/><rect x="101.2" y="359.1" width="2.7" height="1.35" fill="#000"/><rect x="96.5" y="360.2" width="2.7" height="1.35" fill="#000"/><rect x="91.8" y="362.4" width="2.7" height="1.35" fill="#000"/><rect x="114.4" y="367.4" width="2.7" height="1.35" fill="#000"/><rect x="96.5" y="374.6" width="2.7" height="1.35" fill="#000"/><rect x="131.8" y="363.8" width="2.7" height="1.35" fill="#000"/><rect x="137.1" y="347.3" width="2.7" height="1.35" fill="#000"/><rect x="148.8" y="348.6" width="2.7" height="1.35" fill="#000"/><rect x="182.3" y="347.3" width="2.7" height="1.35" fill="#000"/><rect x="198.2" y="329.7" width="2.7" height="1.35" fill="#000"/><rect x="199.2" y="328.9" width="2.7" height="1.35" fill="#000"/><line x1="46.2" y1="359.3" x2="198.8" y2="334.9" stroke="#151515" stroke-width="1.35"/></g>
<g><rect x="260.8" y="319.3" width="179.60" height="103.20" class="fr"/><line x1="264.6" y1="422.5" x2="264.6" y2="424.3" class="tkl"/><text x="264.6" y="431.6" text-anchor="middle" class="tk" textLength="10.50" lengthAdjust="spacingAndGlyphs">600</text><line x1="337.9" y1="422.5" x2="337.9" y2="424.3" class="tkl"/><text x="337.9" y="431.6" text-anchor="middle" class="tk" textLength="10.50" lengthAdjust="spacingAndGlyphs">800</text><line x1="410.6" y1="422.5" x2="410.6" y2="424.3" class="tkl"/><text x="410.6" y="431.6" text-anchor="middle" class="tk" textLength="14.00" lengthAdjust="spacingAndGlyphs">1000</text><line x1="259.0" y1="422.5" x2="260.8" y2="422.5" class="tkl"/><text x="256.3" y="425.05" text-anchor="end" class="tk" textLength="3.50" lengthAdjust="spacingAndGlyphs">0</text><line x1="259.0" y1="371.7" x2="260.8" y2="371.7" class="tkl"/><text x="256.3" y="374.25" text-anchor="end" class="tk" textLength="10.50" lengthAdjust="spacingAndGlyphs">400</text><line x1="259.0" y1="320.6" x2="260.8" y2="320.6" class="tkl"/><text x="256.3" y="323.15000000000003" text-anchor="end" class="tk" textLength="10.50" lengthAdjust="spacingAndGlyphs">800</text><text x="349" y="311.8" text-anchor="middle" class="lb" textLength="37.3" lengthAdjust="spacingAndGlyphs">Cadmium</text><text x="346.6" y="442" text-anchor="middle" class="lb" textLength="94.5" lengthAdjust="spacingAndGlyphs">Tobacco Weight (mg/cig)</text><text transform="translate(238.9 375) rotate(-90)" text-anchor="middle" class="lb" textLength="90" lengthAdjust="spacingAndGlyphs">Cadmium (ng/cigarette)</text><rect x="286.1" y="341.3" width="2.7" height="1.35" fill="#000"/><rect x="276.6" y="354.2" width="2.7" height="1.35" fill="#000"/><rect x="297.0" y="348.3" width="2.7" height="1.35" fill="#000"/><rect x="307.5" y="341.3" width="2.7" height="1.35" fill="#000"/><rect x="313.8" y="343.4" width="2.7" height="1.35" fill="#000"/><rect x="305.0" y="345.8" width="2.7" height="1.35" fill="#000"/><rect x="311.2" y="348.3" width="2.7" height="1.35" fill="#000"/><rect x="316.9" y="347.3" width="3" height="2.4" fill="#000"/><rect x="304.4" y="350.8" width="2.7" height="1.35" fill="#000"/><rect x="306.3" y="352.9" width="2.7" height="1.35" fill="#000"/><rect x="316.0" y="352.9" width="2.7" height="1.35" fill="#000"/><rect x="302.6" y="355.1" width="2.7" height="1.35" fill="#000"/><rect x="305.0" y="356.1" width="2.7" height="1.35" fill="#000"/><rect x="308.8" y="355.7" width="2.7" height="1.35" fill="#000"/><rect x="309.1" y="358.5" width="2.7" height="1.35" fill="#000"/><rect x="309.9" y="359.3" width="2.7" height="1.35" fill="#000"/><rect x="305.0" y="361.3" width="2.7" height="1.35" fill="#000"/><rect x="287.3" y="361.5" width="2.7" height="1.35" fill="#000"/><rect x="293.3" y="362.6" width="2.7" height="1.35" fill="#000"/><rect x="286.1" y="364.9" width="2.7" height="1.35" fill="#000"/><rect x="288.4" y="364.0" width="2.7" height="1.35" fill="#000"/><rect x="289.8" y="365.1" width="2.7" height="1.35" fill="#000"/><rect x="293.4" y="364.8" width="3.6" height="1.6" fill="#000"/><rect x="287.3" y="367.6" width="2.7" height="1.35" fill="#000"/><rect x="289.7" y="368.6" width="2.8" height="2.4" fill="#000"/><rect x="295.6" y="370.9" width="2.7" height="1.35" fill="#000"/><rect x="289.8" y="374.5" width="2.7" height="1.35" fill="#000"/><rect x="304.1" y="368.7" width="2.7" height="1.35" fill="#000"/><rect x="307.8" y="367.3" width="2.7" height="1.35" fill="#000"/><rect x="307.8" y="369.8" width="2.7" height="1.35" fill="#000"/><rect x="303.8" y="371.8" width="3.4" height="2" fill="#000"/><rect x="315.8" y="370.9" width="2.7" height="1.35" fill="#000"/><rect x="327.4" y="369.8" width="2.7" height="1.35" fill="#000"/><rect x="347.9" y="330.3" width="2.7" height="1.35" fill="#d03848"/><rect x="368.4" y="339.8" width="2.7" height="1.35" fill="#000"/><rect x="326.6" y="344.7" width="2.7" height="1.35" fill="#000"/><rect x="331.6" y="343.5" width="2.7" height="1.35" fill="#000"/><rect x="349.3" y="348.3" width="2.7" height="1.35" fill="#000"/><rect x="328.8" y="350.7" width="2.7" height="1.35" fill="#000"/><rect x="332.8" y="349.6" width="2.7" height="1.35" fill="#000"/><rect x="327.8" y="353.0" width="2.7" height="1.35" fill="#000"/><rect x="332.2" y="358.9" width="2.7" height="1.35" fill="#000"/><rect x="329.9" y="360.1" width="2.7" height="1.35" fill="#000"/><rect x="333.9" y="361.5" width="2.7" height="1.35" fill="#000"/><rect x="329.9" y="364.9" width="2.7" height="1.35" fill="#000"/><rect x="363.4" y="363.8" width="2.7" height="1.35" fill="#000"/><rect x="413.8" y="348.5" width="2.7" height="1.35" fill="#000"/><rect x="430.4" y="368.7" width="2.7" height="1.35" fill="#000"/><rect x="429.3" y="371.1" width="2.7" height="1.35" fill="#000"/><rect x="428.8" y="372.8" width="2.7" height="1.35" fill="#000"/><rect x="380.5" y="381.3" width="2.7" height="1.35" fill="#000"/><rect x="380.5" y="384.9" width="2.7" height="1.35" fill="#000"/><rect x="369.3" y="340.1" width="2.7" height="1.35" fill="#000"/><line x1="278" y1="357.3" x2="429.4" y2="373.9" stroke="#151515" stroke-width="1.35"/></g>
<g><rect x="500.1" y="319.3" width="174.60" height="103.20" class="fr"/><line x1="502.8" y1="422.5" x2="502.8" y2="424.3" class="tkl"/><text x="502.8" y="431.6" text-anchor="middle" class="tk" textLength="10.50" lengthAdjust="spacingAndGlyphs">600</text><line x1="574.5" y1="422.5" x2="574.5" y2="424.3" class="tkl"/><text x="574.5" y="431.6" text-anchor="middle" class="tk" textLength="10.50" lengthAdjust="spacingAndGlyphs">800</text><line x1="646.5" y1="422.5" x2="646.5" y2="424.3" class="tkl"/><text x="646.5" y="431.6" text-anchor="middle" class="tk" textLength="14.00" lengthAdjust="spacingAndGlyphs">1000</text><line x1="498.3" y1="422.5" x2="500.1" y2="422.5" class="tkl"/><text x="494.7" y="425.05" text-anchor="end" class="tk" textLength="3.50" lengthAdjust="spacingAndGlyphs">0</text><line x1="498.3" y1="371.7" x2="500.1" y2="371.7" class="tkl"/><text x="494.7" y="374.25" text-anchor="end" class="tk" textLength="14.00" lengthAdjust="spacingAndGlyphs">1000</text><line x1="498.3" y1="320.6" x2="500.1" y2="320.6" class="tkl"/><text x="494.7" y="323.15000000000003" text-anchor="end" class="tk" textLength="14.00" lengthAdjust="spacingAndGlyphs">2000</text><text x="585.3" y="311.8" text-anchor="middle" class="lb" textLength="54.5" lengthAdjust="spacingAndGlyphs">Acetal dehyde</text><text x="582" y="442" text-anchor="middle" class="lb" textLength="94.5" lengthAdjust="spacingAndGlyphs">Tobacco Weight (mg/cig)</text><text transform="translate(473.1 376.95) rotate(-90)" text-anchor="middle" class="lb" textLength="105.7" lengthAdjust="spacingAndGlyphs">Acetaldehyde (µg/cigarette)</text><rect x="542.1" y="329.4" width="2.7" height="1.35" fill="#000"/><rect x="542.1" y="333.1" width="2.7" height="1.35" fill="#000"/><rect x="552.6" y="328.2" width="2.7" height="1.35" fill="#000"/><rect x="553.9" y="331.9" width="2.7" height="1.35" fill="#000"/><rect x="553.9" y="335.3" width="2.7" height="1.35" fill="#000"/><rect x="553.9" y="338.7" width="2.7" height="1.35" fill="#000"/><rect x="545.8" y="340.0" width="2.7" height="1.35" fill="#000"/><rect x="515.6" y="343.6" width="2.7" height="1.35" fill="#000"/><rect x="525.5" y="345.9" width="2.7" height="1.35" fill="#000"/><rect x="547.8" y="344.6" width="3" height="2.4" fill="#000"/><rect x="541.0" y="348.5" width="2.7" height="1.35" fill="#000"/><rect x="544.6" y="348.5" width="2.7" height="1.35" fill="#000"/><rect x="547.4" y="348.5" width="2.7" height="1.35" fill="#000"/><rect x="515.6" y="351.8" width="2.7" height="1.35" fill="#000"/><rect x="526.6" y="352.2" width="2.7" height="1.35" fill="#000"/><rect x="543.4" y="351.3" width="2.7" height="1.35" fill="#000"/><rect x="553.5" y="351.8" width="2.7" height="1.35" fill="#000"/><rect x="524.1" y="355.5" width="2.7" height="1.35" fill="#000"/><rect x="531.1" y="354.4" width="2.7" height="1.35" fill="#000"/><rect x="533.4" y="355.2" width="2.7" height="1.35" fill="#000"/><rect x="527.0" y="356.9" width="3" height="2.4" fill="#000"/><rect x="527.6" y="360.3" width="3" height="2.4" fill="#000"/><rect x="531.6" y="359.1" width="2.7" height="1.35" fill="#000"/><rect x="546.2" y="357.8" width="2.7" height="1.35" fill="#000"/><rect x="527.8" y="366.1" width="2.7" height="1.35" fill="#000"/><rect x="584.6" y="332.7" width="2.7" height="1.35" fill="#d03848"/><rect x="564.4" y="335.3" width="2.7" height="1.35" fill="#000"/><rect x="569.4" y="337.6" width="2.7" height="1.35" fill="#000"/><rect x="570.5" y="336.4" width="2.7" height="1.35" fill="#000"/><rect x="585.9" y="341.2" width="2.7" height="1.35" fill="#000"/><rect x="566.9" y="343.6" width="2.7" height="1.35" fill="#000"/><rect x="564.8" y="346.0" width="3" height="2.4" fill="#000"/><rect x="566.0" y="347.9" width="2.7" height="1.35" fill="#000"/><rect x="566.6" y="350.4" width="2.7" height="1.35" fill="#000"/><rect x="561.0" y="353.0" width="2.7" height="1.35" fill="#000"/><rect x="570.5" y="351.8" width="2.7" height="1.35" fill="#000"/><rect x="566.4" y="354.2" width="3.6" height="1.8" fill="#000"/><rect x="570.5" y="357.8" width="2.7" height="1.35" fill="#000"/><rect x="583.8" y="357.8" width="2.7" height="1.35" fill="#000"/><rect x="564.4" y="362.5" width="2.7" height="1.35" fill="#000"/><rect x="549.2" y="345.1" width="2.7" height="1.35" fill="#000"/><rect x="663.2" y="331.6" width="3.8" height="1.8" fill="#000"/><rect x="648.2" y="336.4" width="2.7" height="1.35" fill="#000"/><rect x="603.8" y="348.3" width="2.7" height="1.35" fill="#000"/><rect x="600.4" y="351.7" width="2.7" height="1.35" fill="#000"/><rect x="615.6" y="348.3" width="2.7" height="1.35" fill="#000"/><rect x="615.6" y="350.8" width="2.7" height="1.35" fill="#000"/><line x1="517" y1="354.8" x2="665.1" y2="337.1" stroke="#151515" stroke-width="1.35"/></g>
</svg>
</body></html>
